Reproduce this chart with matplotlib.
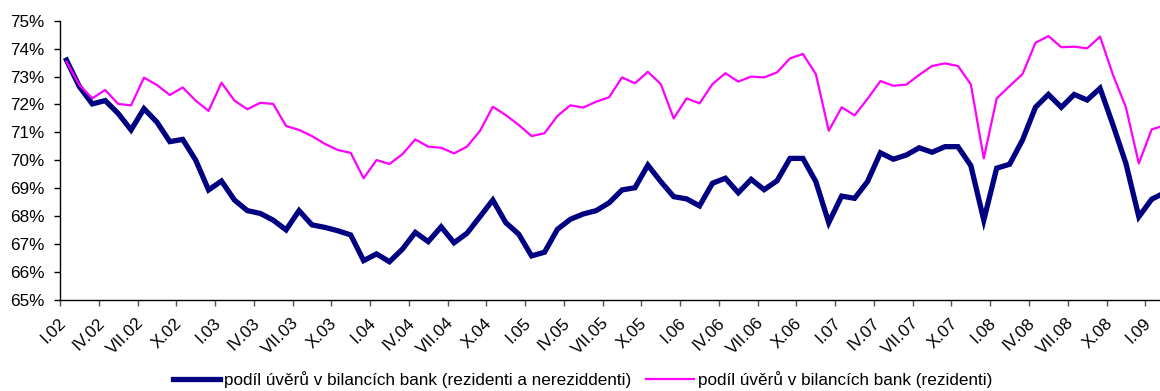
import numpy as np
from matplotlib import pyplot as plt
from matplotlib import transforms

# Data: monthly shares (%), I.02 - II.09

# podíl úvěrů v bilancích bank (rezidenti a nerezidenti)
celkem = [
    73.59, 72.64, 72.02, 72.14, 71.68, 71.09, 71.85, 71.37, 70.67, 70.75, 70.01, 68.94,
    69.26, 68.58, 68.20, 68.10, 67.86, 67.51, 68.20, 67.69, 67.60, 67.48, 67.33, 66.41,
    66.65, 66.37, 66.82, 67.42, 67.09, 67.62, 67.05, 67.39, 67.98, 68.58, 67.77, 67.36,
    66.58, 66.71, 67.53, 67.89, 68.08, 68.20, 68.48, 68.94, 69.02, 69.83, 69.24, 68.70,
    68.62, 68.37, 69.18, 69.36, 68.84, 69.32, 68.95, 69.27, 70.07, 70.07, 69.24, 67.77,
    68.72, 68.64, 69.24, 70.27, 70.04, 70.19, 70.45, 70.29, 70.49, 70.49, 69.81, 67.86,
    69.72, 69.86, 70.73, 71.90, 72.36, 71.90, 72.36, 72.16, 72.58, 71.27, 69.89, 67.98,
    68.61, 68.84,
]

# podíl úvěrů v bilancích bank (rezidenti)
rezidenti = [
    73.53, 72.70, 72.22, 72.52, 72.02, 71.97, 72.96, 72.70, 72.34, 72.61, 72.14, 71.77,
    72.78, 72.14, 71.83, 72.06, 72.02, 71.23, 71.09, 70.87, 70.59, 70.37, 70.27, 69.36,
    70.01, 69.87, 70.22, 70.75, 70.49, 70.45, 70.25, 70.49, 71.05, 71.92, 71.62, 71.27,
    70.87, 70.97, 71.59, 71.97, 71.89, 72.10, 72.26, 72.97, 72.76, 73.17, 72.73, 71.50,
    72.22, 72.04, 72.73, 73.12, 72.82, 73.00, 72.97, 73.15, 73.65, 73.81, 73.09, 71.06,
    71.90, 71.61, 72.20, 72.84, 72.67, 72.71, 73.06, 73.38, 73.47, 73.38, 72.72, 70.07,
    72.22, 72.66, 73.09, 74.21, 74.45, 74.05, 74.07, 74.01, 74.43, 73.06, 71.90, 69.89,
    71.11, 71.25,
]

popisky = [
    "I.02", "IV.02", "VII.02", "X.02", "I.03", "IV.03", "VII.03", "X.03",
    "I.04", "IV.04", "VII.04", "X.04", "I.05", "IV.05", "VII.05", "X.05",
    "I.06", "IV.06", "VII.06", "X.06", "I.07", "IV.07", "VII.07", "X.07",
    "I.08", "IV.08", "VII.08", "X.08", "I.09",
]

plt.rcParams["font.family"] = ["Liberation Sans", "DejaVu Sans"]

fig = plt.figure(figsize=(11.6, 3.91), dpi=100)
ax = fig.add_axes([60 / 1160, 1 - 300 / 391, 1 - 60 / 1160, (300 - 20.7) / 391])

x = np.arange(len(celkem))
ax.plot(x, celkem, color="#000080", lw=3.8, solid_joinstyle="miter",
        label="podíl úvěrů v bilancích bank (rezidenti a nereziddenti)")
ax.plot(x, rezidenti, color="#FF00FF", lw=1.6,
        label="podíl úvěrů v bilancích bank (rezidenti)")

# osa y
ax.set_yticks(np.arange(65, 76, 1))
ax.set_yticklabels([f"{v}%" for v in range(65, 76)], fontsize=12.3)
ax.tick_params(axis="y", direction="out", length=4, width=1, pad=7, colors="black")

# osa x: čárky mezi kategoriemi, popisky na kategoriích
ax.set_xticks(np.arange(-0.5, len(celkem) + 1, 3))
ax.set_xticklabels([])
ax.set_xticks(np.arange(0, 3 * len(popisky), 3), minor=True)
ax.set_xticklabels(popisky, minor=True, rotation=45, ha="right",
                   rotation_mode="anchor", fontsize=12.3)
ax.tick_params(axis="x", which="major", direction="out", length=4, width=1,
               color="#555555")
ax.tick_params(axis="x", which="minor", length=0, pad=11)

# popisky končí u čárky vlevo od kategorie
posun = transforms.ScaledTranslation(-8.4 / 100, 0, fig.dpi_scale_trans)
for lbl in ax.get_xticklabels(minor=True):
    lbl.set_transform(lbl.get_transform() + posun)

# rozsah až po nastavení čárek (set_xticks jinak rozšíří osu)
ax.set_xlim(-0.5, -0.5 + 1100 / 12.92)
ax.set_ylim(65, 75)

for s in ["top", "right"]:
    ax.spines[s].set_visible(False)
for s in ["left", "bottom"]:
    ax.spines[s].set_linewidth(1)

fig.legend(loc="center", bbox_to_anchor=(0.502, 0.03), ncol=2, frameon=False,
           fontsize=12.3, handlelength=2.8, handletextpad=0.2, columnspacing=0.9)

fig.savefig("out.png", dpi=100)
